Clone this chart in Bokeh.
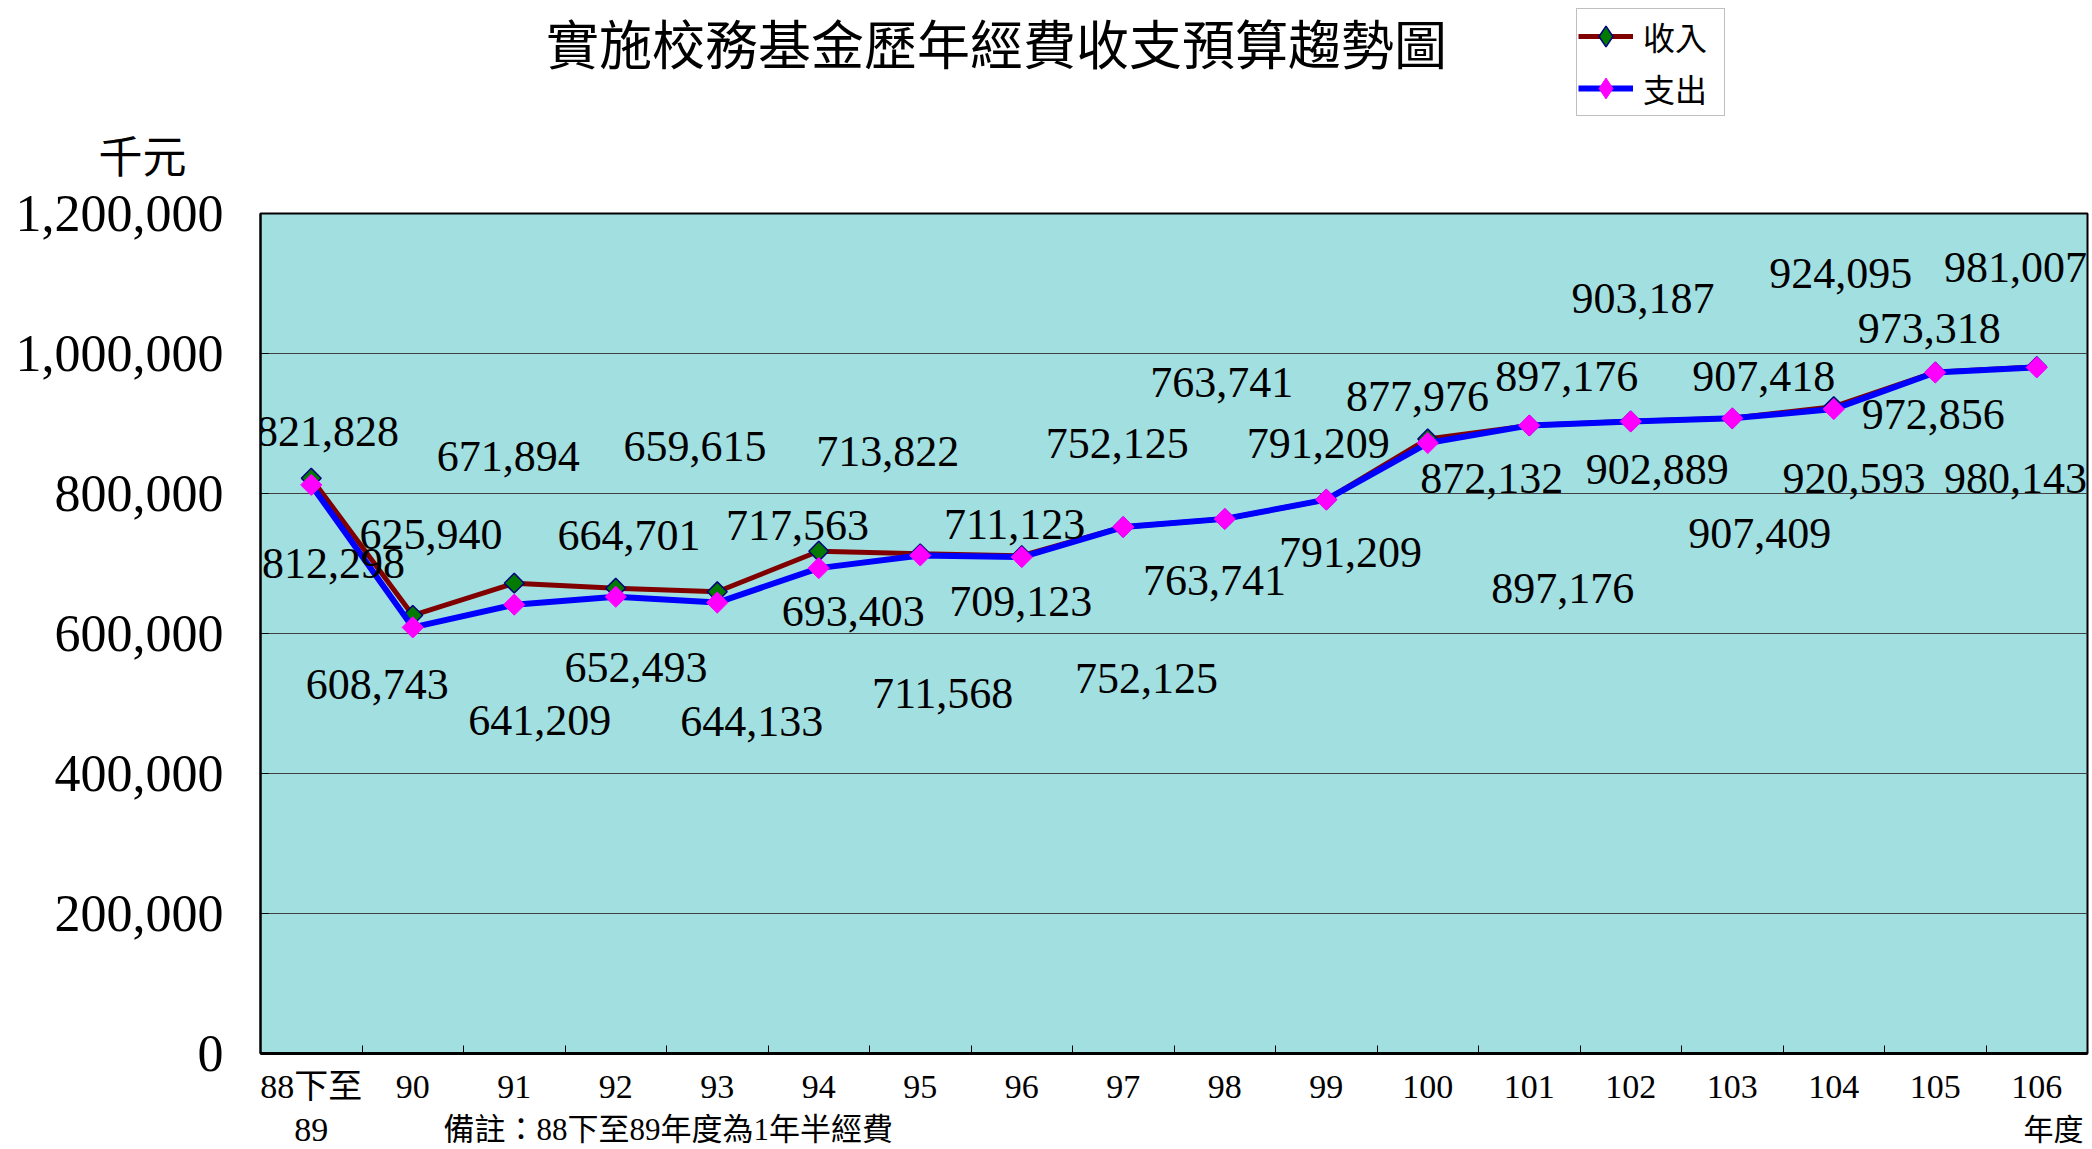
import numpy as np
from bokeh.plotting import figure
from bokeh.layouts import column
from bokeh.models import (Range1d, FixedTicker, NumeralTickFormatter, LabelSet, Label,
                          ColumnDataSource, Legend, LegendItem, LinearAxis)
from bokeh.embed import file_html
from bokeh.resources import INLINE

# ---------------- data ----------------
categories = ["88下至89", "90", "91", "92", "93", "94", "95", "96", "97", "98",
              "99", "100", "101", "102", "103", "104", "105", "106"]
tick_labels = ["88下至", "90", "91", "92", "93", "94", "95", "96", "97", "98",
               "99", "100", "101", "102", "103", "104", "105", "106"]
income = [821828, 625940, 671894, 664701, 659615, 717563, 713822, 711123, 752125,
          763741, 791209, 877976, 897176, 903187, 907418, 924095, 973318, 981007]
expense = [812298, 608743, 641209, 652493, 644133, 693403, 711568, 709123, 752125,
           763741, 791209, 872132, 897176, 902889, 907409, 920593, 972856, 980143]
y_ticks = [0, 200000, 400000, 600000, 800000, 1000000, 1200000]

# label placement offsets (category units, value units) - styling only
inc_dx = [0.16, 0.18, -0.06, 0.13, -0.22, -0.21, -0.32, -0.07, -0.06, -0.03,
          -0.08, -0.10, 0.37, 0.12, 0.31, 0.07, -0.06, -0.21]
inc_dy = [67000, 116100, 181000, 75800, 207600, 36700, 146200, 43900, 119300, 194900,
          80300, 59900, 69300, 174700, 59700, 190000, 61700, 141900]
exp_dx = [0.22, -0.35, 0.25, 0.20, 0.34, 0.34, 0.22, -0.01, 0.23, -0.10,
          0.24, 0.63, 0.33, 0.26, 0.27, 0.20, -0.02, -0.21]
exp_dy = [-112300, -81500, -165400, -101000, -170000, -62000, -196600, -63400, -216400, -88000,
          -75400, -51400, -232900, -67900, -164300, -99100, -60000, -159400]

CJK = "Noto Sans CJK TC"
NUM = "Liberation Serif"
MIX = "'Liberation Serif', 'Noto Sans CJK TC'"

INC_LINE, INC_FILL, INC_EDGE = "#800000", "#007A00", "#000080"
EXP_LINE, EXP_FILL = "#0000FF", "#FF00FF"

n = len(categories)
xs = [i + 0.5 for i in range(n)]

W = 2092
LEFT, RIGHT = 260, 5
FRAME_W, FRAME_H = W - LEFT - RIGHT, 840
TOP_H, MAIN_TOP, MAIN_BOTTOM, BOT_H = 183, 30, 56, 40
unit = FRAME_W / n  # pixels per category


def strip(height):
    # frames of stacked plots are aligned with the main frame: x in page pixels
    f = figure(width=W, height=height, output_backend="svg", toolbar_location=None,
               x_axis_type=None, y_axis_type=None, x_range=Range1d(LEFT, W - RIGHT),
               y_range=Range1d(0, height), min_border=0)
    f.outline_line_color = None
    f.background_fill_color = "white"
    f.border_fill_color = "white"
    return f


# ---------------- top strip: title, unit, legend ----------------
top = strip(TOP_H)
top.add_layout(Label(x=996, y=TOP_H - 41, text="實施校務基金歷年經費收支預算趨勢圖",
                     text_font=CJK, text_font_size="53px", text_align="center",
                     text_baseline="middle", text_color="black"))
unit_y = TOP_H - 158
unit_axis = LinearAxis(ticker=FixedTicker(ticks=[unit_y], minor_ticks=[]),
                       major_label_overrides={unit_y: "千元"})
unit_axis.axis_line_color = None
unit_axis.major_tick_line_color = None
unit_axis.minor_tick_line_color = None
unit_axis.major_label_text_font = MIX
unit_axis.major_label_text_font_size = "44px"
unit_axis.major_label_text_color = "black"
unit_axis.major_label_standoff = 68
top.add_layout(unit_axis, "left")

dl1 = top.line(x=[0, 1], y=[-50, -50], line_color=INC_LINE, line_width=5)
dm1 = top.scatter(x=[0], y=[-50], marker="diamond", size=20, fill_color=INC_FILL,
                  line_color=INC_EDGE, line_width=1.5)
dl2 = top.line(x=[0, 1], y=[-50, -50], line_color=EXP_LINE, line_width=6)
dm2 = top.scatter(x=[0], y=[-50], marker="diamond", size=20, fill_color=EXP_FILL,
                  line_color=EXP_FILL, line_width=1)
legend = Legend(items=[LegendItem(label="收入", renderers=[dl1, dm1]),
                       LegendItem(label="支出", renderers=[dl2, dm2])],
                location=(1576 - LEFT, TOP_H - 10 - 106))
legend.border_line_color = "#808080"
legend.border_line_width = 1.5
legend.background_fill_color = "white"
legend.background_fill_alpha = 1
legend.label_text_font = CJK
legend.label_text_font_size = "32px"
legend.label_text_color = "black"
legend.glyph_width = 55
legend.glyph_height = 52
legend.label_height = 46
legend.label_width = 80
legend.spacing = 0
legend.padding = 1
legend.label_standoff = 10
legend.margin = 0
top.add_layout(legend)

# ---------------- main chart ----------------
p = figure(frame_width=FRAME_W, frame_height=FRAME_H, output_backend="svg",
           toolbar_location=None, x_range=Range1d(0, n), y_range=Range1d(0, 1200000),
           min_border_left=LEFT, min_border_right=RIGHT, min_border_top=MAIN_TOP,
           min_border_bottom=MAIN_BOTTOM)
p.background_fill_color = "#A2DFE0"
p.border_fill_color = "white"
p.outline_line_color = "black"
p.outline_line_width = 2

xa = p.xaxis[0]
xa.ticker = FixedTicker(ticks=xs, minor_ticks=list(range(n + 1)))
xa.major_label_overrides = {x: lab for x, lab in zip(xs, tick_labels)}
xa.major_tick_in = 0
xa.major_tick_out = 0
xa.minor_tick_in = 8
xa.minor_tick_out = 0
xa.minor_tick_line_color = "black"
xa.axis_line_color = "black"
xa.axis_line_width = 3
xa.major_label_text_font = MIX
xa.major_label_text_font_size = "34px"
xa.major_label_text_color = "black"
xa.major_label_standoff = 14

ya = p.yaxis[0]
ya.ticker = FixedTicker(ticks=y_ticks, minor_ticks=[])
ya.formatter = NumeralTickFormatter(format="0,0")
ya.major_tick_in = 8
ya.major_tick_out = 0
ya.major_tick_line_color = "black"
ya.axis_line_color = "black"
ya.axis_line_width = 2
ya.major_label_text_font = NUM
ya.major_label_text_font_size = "52px"
ya.major_label_text_color = "black"
ya.major_label_standoff = 37

p.xgrid.visible = False
p.ygrid.ticker = FixedTicker(ticks=y_ticks)
p.ygrid.grid_line_color = "#404040"
p.ygrid.grid_line_width = 1

src = ColumnDataSource(dict(x=xs, income=income, expense=expense))
p.line("x", "income", source=src, line_color=INC_LINE, line_width=5)
p.scatter("x", "income", source=src, marker="square", angle=np.pi / 4, size=14,
          fill_color=INC_FILL, line_color=INC_EDGE, line_width=1.5)
p.line("x", "expense", source=src, line_color=EXP_LINE, line_width=6)
p.scatter("x", "expense", source=src, marker="square", angle=np.pi / 4, size=15,
          fill_color=EXP_FILL, line_color=EXP_FILL, line_width=1)

inc_src = ColumnDataSource(dict(
    x=[x + d for x, d in zip(xs, inc_dx)],
    y=[v + d for v, d in zip(income, inc_dy)],
    text=[f"{v:,}" for v in income]))
exp_src = ColumnDataSource(dict(
    x=[x + d for x, d in zip(xs, exp_dx)],
    y=[v + d for v, d in zip(expense, exp_dy)],
    text=[f"{v:,}" for v in expense]))
for s in (inc_src, exp_src):
    p.add_layout(LabelSet(x="x", y="y", text="text", source=s, text_font=NUM,
                          text_font_size="44px", text_align="center",
                          text_baseline="middle", text_color="black"))

# ---------------- bottom strip: second line of first tick, note, axis unit ----------------
bot = strip(BOT_H)
bot.add_layout(Label(x=LEFT + 0.5 * unit, y=BOT_H - 20, text="89", text_font=NUM,
                     text_font_size="34px", text_align="center", text_baseline="middle",
                     text_color="black"))
bot.add_layout(Label(x=443, y=BOT_H - 20, text="備註：88下至89年度為1年半經費", text_font=MIX,
                     text_font_size="31px", text_align="left", text_baseline="middle",
                     text_color="black"))
bot.add_layout(Label(x=2053, y=BOT_H - 20, text="年度", text_font=MIX, text_font_size="30px",
                     text_align="center", text_baseline="middle", text_color="black"))

layout = column(top, p, bot, spacing=0)
open("out.html", "w").write(file_html(layout, INLINE))
